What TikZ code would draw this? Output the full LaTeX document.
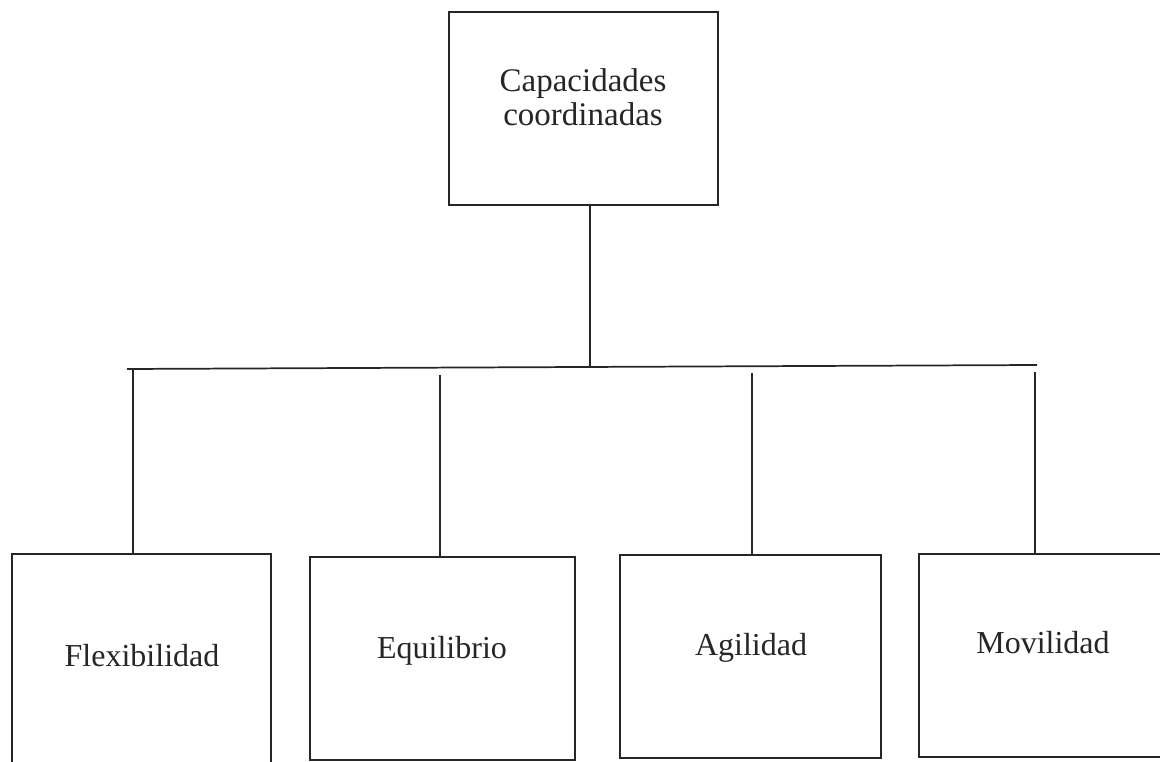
\documentclass[tikz,border=0pt]{standalone}
\usepackage{fontspec}
\setmainfont{Liberation Serif}
\begin{document}
\begin{tikzpicture}[x=0.75pt,y=-0.75pt,
    box/.style={draw=black!85, line width=1.3pt, rectangle, inner sep=0pt},
    wire/.style={draw=black!85, line width=1.3pt},
    lbl/.style={inner sep=0pt, text=black!85, font=\fontsize{24}{24}\selectfont},
    toplbl/.style={inner sep=0pt, text=black!85, align=center,
                   font=\fontsize{24.75}{25.5}\selectfont}]
  \useasboundingbox (0,0) rectangle (1160,762);
  \clip (0,0) rectangle (1160,762);

  % parent box
  \node[box, minimum width=201.75pt, minimum height=144.75pt] (top) at (583.5,108.5) {};
  \node[toplbl, anchor=center] (toptxt) at (583,97) {Capacidades\\coordinadas};

  % child boxes
  \node[box, minimum width=194.25pt, minimum height=165.75pt] (flex) at (141.5,664.5) {};
  \node[box, minimum width=198.75pt, minimum height=152.25pt] (equi) at (442.5,658.5) {};
  \node[box, minimum width=195.75pt, minimum height=152.25pt] (agil) at (750.5,656.5) {};
  \node[box, minimum width=192pt, minimum height=152.25pt] (movi) at (1047,655.5) {};

  \node[lbl, anchor=base] (flextxt) at (142,666) {Flexibilidad};
  \node[lbl, anchor=base] (equitxt) at (442,658) {Equilibrio};
  \node[lbl, anchor=base] (agiltxt) at (751,655) {Agilidad};
  \node[lbl, anchor=base] (movitxt) at (1043,653) {Movilidad};

  % distribution bus
  \coordinate (busL) at (127,369);
  \coordinate (busR) at (1037,365);
  \coordinate (stem) at (590,367);
  \coordinate (t1) at (133,369);
  \coordinate (t2) at (440,375);
  \coordinate (t3) at (752,373);
  \coordinate (t4) at (1035,372);

  \draw[wire] (busL) -- (busR);
  \draw[wire] (top.south -| stem) -- (stem);
  \draw[wire] (t1) -- (t1 |- flex.north);
  \draw[wire] (t2) -- (t2 |- equi.north);
  \draw[wire] (t3) -- (t3 |- agil.north);
  \draw[wire] (t4) -- (t4 |- movi.north);
\end{tikzpicture}
\end{document}
